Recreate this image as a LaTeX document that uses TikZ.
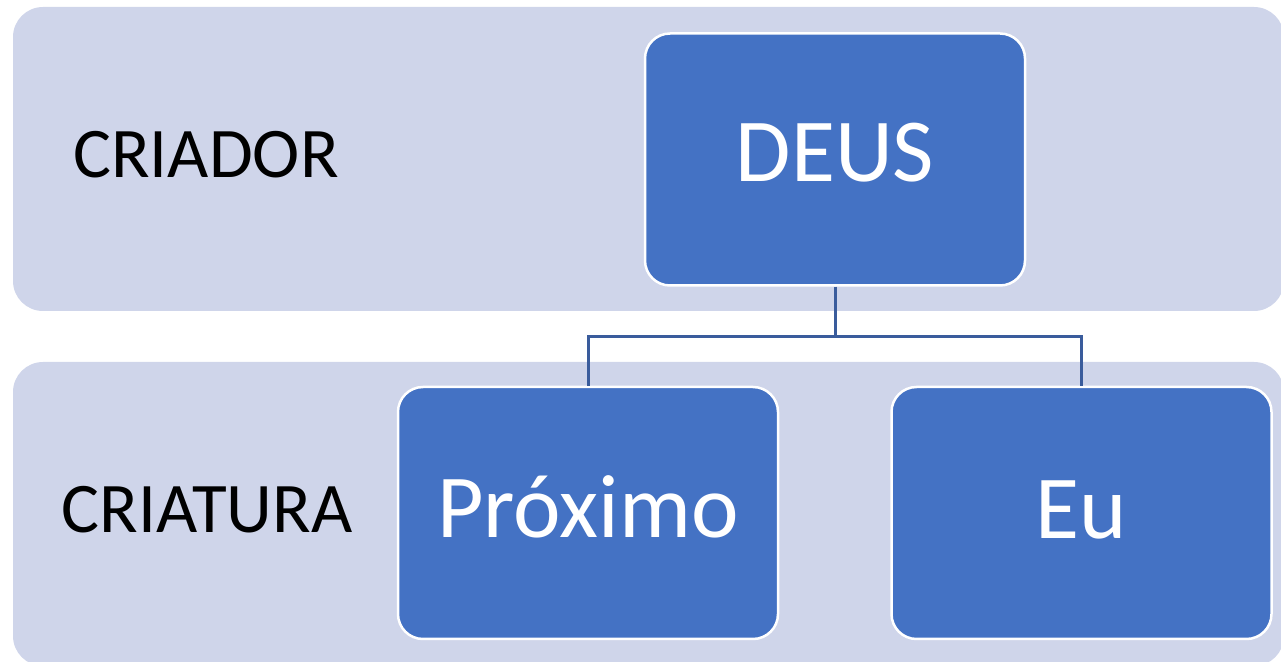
\documentclass[tikz,border=0pt]{standalone}
\usepackage{fontspec}
\setmainfont{Carlito}
\definecolor{bandcol}{HTML}{CFD5EA}
\definecolor{boxcol}{HTML}{4472C4}
\definecolor{linecol}{HTML}{3A5C9C}
\begin{document}
\begin{tikzpicture}[x=0.5pt,y=-0.5pt,
  band/.style={fill=bandcol,rounded corners=15pt},
  boxnode/.style={draw=white,line width=1.25pt,fill=boxcol,rounded corners=12.5pt,
    minimum width=190pt,minimum height=126pt,inner sep=0pt,text=white,
    font=\fontsize{45}{54}\selectfont,text height=28.4pt},
  lbl/.style={anchor=base,inner sep=0pt,font=\fontsize{35.6}{43}\selectfont,text=black},
  conn/.style={draw=linecol,line width=1.5pt}]
\useasboundingbox (0,0) rectangle (1281,662);
\clip (0,0) rectangle (1281,662);
\path[band] (13,7) rectangle (1284,311);
\path[band] (13,362) rectangle (1284,666);
\node[boxnode,text depth=6pt] (deus) at (835,159.5) {DEUS};
\node[boxnode,text depth=3.5pt] (prox) at (588,513) {Próximo};
\node[boxnode,text depth=3pt] (eu) at (1081.5,513) {Eu};
\node[lbl] (criador) at (206,178) {CRIADOR};
\node[lbl] (criatura) at (207,533) {CRIATURA};
\draw[conn] (deus.south) -- ++(0,-25pt) coordinate (bus) -| (prox.north);
\draw[conn] (bus) -| (eu.north);
\end{tikzpicture}
\end{document}
